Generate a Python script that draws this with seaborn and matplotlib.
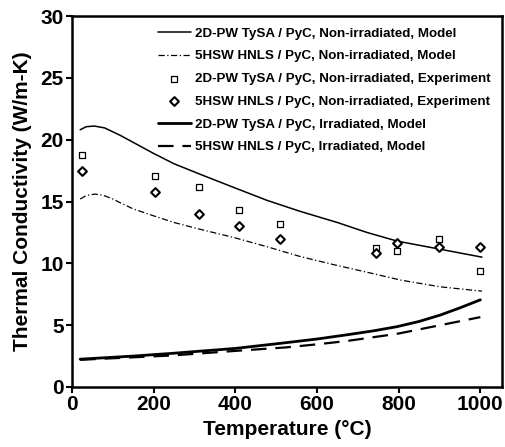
import numpy as np
import pandas as pd
import seaborn as sns
from matplotlib import pyplot as plt

# model curves, non-irradiated
t_tysa = [20, 35, 55, 80, 118, 160, 199, 250, 314, 395, 477, 559, 650, 722, 796, 900, 1004]
tysa_nonirr = [20.8, 21.05, 21.1, 20.95, 20.35, 19.6, 18.9, 18.05, 17.2, 16.15, 15.1, 14.2,
               13.3, 12.5, 11.8, 11.15, 10.5]
t_hnls = [20, 36, 56, 77, 100, 118, 150, 199, 250, 314, 395, 477, 559, 640, 720, 804, 902, 1004]
hnls_nonirr = [15.2, 15.5, 15.6, 15.5, 15.2, 14.9, 14.4, 13.85, 13.3, 12.75, 12.1, 11.35,
               10.55, 9.9, 9.3, 8.65, 8.1, 7.75]

# model curves, irradiated
t_tysa_irr = [20, 150, 245, 400, 510, 600, 673, 740, 796, 850, 902, 950, 1000]
tysa_irr = [2.25, 2.5, 2.72, 3.12, 3.53, 3.88, 4.22, 4.55, 4.88, 5.3, 5.82, 6.4, 7.05]
t_hnls_irr = [20, 245, 400, 523, 600, 673, 796, 902, 1000]
hnls_irr = [2.2, 2.55, 2.92, 3.2, 3.45, 3.72, 4.3, 5.0, 5.65]

# experiments
t_exp = [25, 203, 310, 410, 510, 744, 796, 898, 998]
tysa_exp = [18.8, 17.1, 16.2, 14.3, 13.2, 11.25, 11.0, 11.95, 9.4]
hnls_exp = [17.5, 15.8, 13.95, 13.05, 11.95, 10.8, 11.65, 11.35, 11.35]

lab = ["2D-PW TySA / PyC, Non-irradiated, Model",
       "5HSW HNLS / PyC, Non-irradiated, Model",
       "2D-PW TySA / PyC, Non-irradiated, Experiment",
       "5HSW HNLS / PyC, Non-irradiated, Experiment",
       "2D-PW TySA / PyC, Irradiated, Model",
       "5HSW HNLS / PyC, Irradiated, Model"]

sns.set_style("ticks")
plt.rcParams['font.family'] = ['Liberation Sans', 'DejaVu Sans']
plt.rcParams['font.weight'] = 'bold'
plt.rcParams['text.color'] = 'black'
plt.rcParams['axes.labelcolor'] = 'black'
plt.rcParams['xtick.color'] = 'black'
plt.rcParams['ytick.color'] = 'black'
plt.rcParams['axes.edgecolor'] = 'black'

fig = plt.figure(figsize=(5.05, 4.47), dpi=100)
ax = fig.add_axes([72 / 505, 1 - 387 / 447, 430 / 505, 371 / 447])

sns.lineplot(x=t_tysa, y=tysa_nonirr, ax=ax, color="black", lw=1.1, label=lab[0])
sns.lineplot(x=t_hnls, y=hnls_nonirr, ax=ax, color="black", lw=0.9, label=lab[1])
ax.lines[-1].set_dashes([5, 2, 1, 2])
sns.scatterplot(x=t_exp, y=tysa_exp, ax=ax, marker="s", s=20, facecolor="white",
                edgecolor="black", linewidth=0.9, label=lab[2], zorder=3)
sns.scatterplot(x=t_exp, y=hnls_exp, ax=ax, marker="D", s=20, facecolor="white",
                edgecolor="black", linewidth=1.5, label=lab[3], zorder=3)
sns.lineplot(x=t_tysa_irr, y=tysa_irr, ax=ax, color="black", lw=2.0, label=lab[4])
sns.lineplot(x=t_hnls_irr, y=hnls_irr, ax=ax, color="black", lw=1.6, label=lab[5])
ax.lines[-1].set_dashes([7, 4])

ax.set_xlim(0, 1053)
ax.set_ylim(0, 30)
ax.set_xticks([0, 200, 400, 600, 800, 1000])
ax.set_yticks([0, 5, 10, 15, 20, 25, 30])
ax.tick_params(labelsize=15, width=1.5, length=4, direction="out", pad=2)
for lbl in ax.get_xticklabels() + ax.get_yticklabels():
    lbl.set_fontweight("bold")
for sp in ax.spines.values():
    sp.set_visible(True)
    sp.set_linewidth(1.8)
ax.set_xlabel("Temperature (°C)", fontsize=15, fontweight="bold", labelpad=4)
ax.set_ylabel("Thermal Conductivity (W/m-K)", fontsize=15, fontweight="bold", labelpad=6)

leg = ax.legend(loc="upper right", frameon=False, fontsize=9.6, handlelength=2.5,
                handletextpad=0.3, labelspacing=0.78, borderaxespad=0.45)
for t in leg.get_texts():
    t.set_fontweight("bold")

plt.savefig("out.png", dpi=100)
